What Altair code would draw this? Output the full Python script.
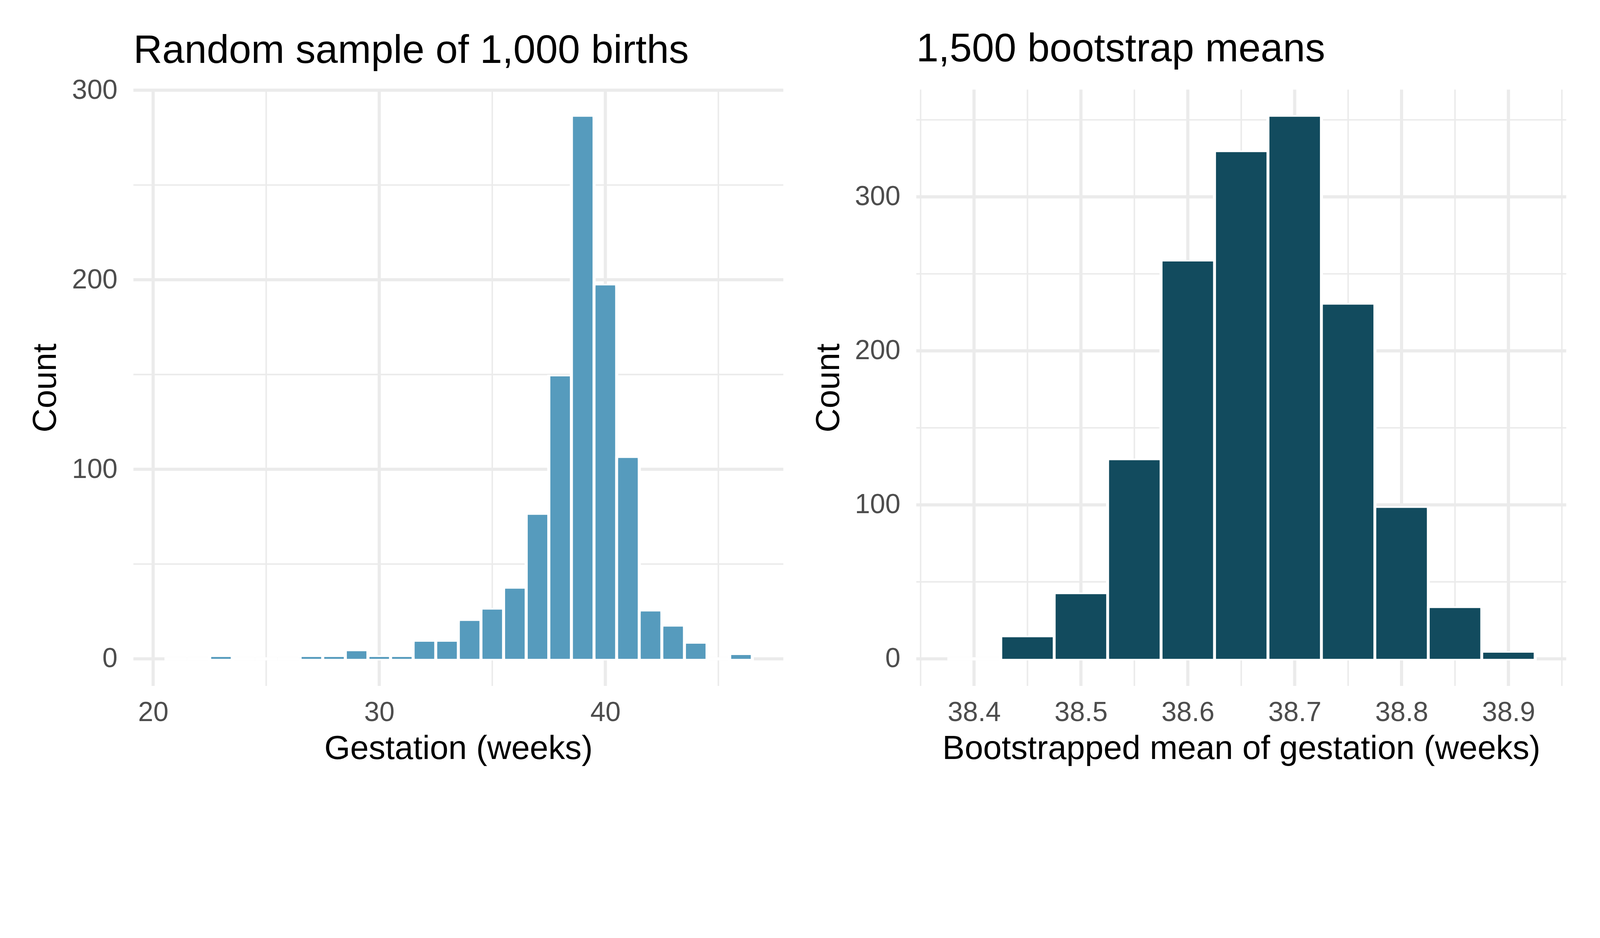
import altair as alt
import pandas as pd

# ---------------- data ----------------
# Left panel: gestation (weeks) of a random sample of 1,000 births
weeks = list(range(21, 47))
week_counts = [0, 0, 1, 0, 0, 0, 1, 1, 4, 1, 1, 9, 9, 20, 26, 37, 76, 149,
               286, 197, 106, 25, 17, 8, 0, 2]

# Right panel: 1,500 bootstrap means (bin centres, binwidth 0.05)
boot_centers = [38.40, 38.45, 38.50, 38.55, 38.60, 38.65, 38.70, 38.75,
                38.80, 38.85, 38.90]
boot_counts = [0, 14, 42, 129, 258, 329, 352, 230, 98, 33, 4]

# tick / grid values
left_x_major = [20, 30, 40]
left_x_minor = [25, 35, 45]
left_y_major = [0, 100, 200, 300]
left_y_minor = [50, 150, 250]

right_x_major = [38.4, 38.5, 38.6, 38.7, 38.8, 38.9]
right_x_minor = [38.35, 38.45, 38.55, 38.65, 38.75, 38.85, 38.95]
right_y_major = [0, 100, 200, 300]
right_y_minor = [50, 150, 250, 350]

FONT = "Liberation Sans"
GRID = "#EBEBEB"
W, H = 1951, 1789
OUTLINE = 9.6
# the concat layout adds space above the cells; compensate in the padding
LEFT, TOP = 391, -67
EXTRA = 358
PAGE_W, PAGE_H = 4784, 2384


def panel(centers, counts, half, bar_px, xdom, ydom, xmaj, xmin, ymaj, ymin,
          color, title, xtitle, xfmt, title_offset):
    xs = alt.Scale(domain=xdom, nice=False, zero=False)
    ys = alt.Scale(domain=ydom, nice=False, zero=False)
    xax = alt.Axis(values=xmaj, format=xfmt, title=xtitle)
    yax = alt.Axis(values=ymaj, format="d", title="Count")

    def vrules(vals, w):
        return alt.Chart(pd.DataFrame({"v": vals})).mark_rule(
            color=GRID, strokeWidth=w).encode(
            x=alt.X("v:Q", scale=xs, axis=xax))

    def hrules(vals, w):
        return alt.Chart(pd.DataFrame({"v": vals})).mark_rule(
            color=GRID, strokeWidth=w).encode(
            y=alt.Y("v:Q", scale=ys, axis=yax))

    base = alt.Chart(pd.DataFrame({"center": centers, "count": counts})
                     ).transform_calculate(
        x0=f"datum.center - {half}",
        x1=f"datum.center + {half}",
        base="0",
    )
    # white outline (halo) of each histogram bin
    outline = base.mark_rect(
        color=color, stroke="white", strokeWidth=OUTLINE
    ).encode(
        x=alt.X("x0:Q", scale=xs, axis=xax),
        x2="x1:Q",
        y=alt.Y("count:Q", scale=ys, axis=yax),
        y2="base:Q",
    )
    # bar fill
    fill = base.mark_bar(color=color, size=bar_px - OUTLINE).encode(
        x=alt.X("center:Q", scale=xs, axis=xax),
        y=alt.Y("count:Q", scale=ys, axis=yax),
        y2="base:Q",
    )

    return alt.layer(
        vrules(xmin, 4.5), hrules(ymin, 4.5),
        vrules(xmaj, 9.5), hrules(ymaj, 9.5),
        outline, fill,
    ).properties(
        width=W, height=H,
        title=alt.Title(title, anchor="start", frame="group",
                        offset=title_offset,
                        fontSize=120, font=FONT, fontWeight="normal",
                        color="black"),
    )


left = panel(weeks, week_counts, 0.5, W / 28.6, [19.2, 47.8], [-14.3, 300.3],
             left_x_major, left_x_minor, left_y_major, left_y_minor,
             "#569BBD", "Random sample of 1,000 births",
             "Gestation (weeks)", "d", 16)

right = panel(boot_centers, boot_counts, 0.025, W * 0.05 / 0.605,
              [38.3475, 38.9525], [-17.6, 369.6],
              right_x_major, right_x_minor, right_y_major, right_y_minor,
              "#124B5E", "1,500 bootstrap means",
              "Bootstrapped mean of gestation (weeks)", ".1f", 55)

chart = alt.hconcat(left, right, spacing=399, bounds="flush").properties(
    autosize=alt.AutoSizeParams(type="none"),
    padding={"left": LEFT, "top": TOP,
             "right": PAGE_W - LEFT, "bottom": PAGE_H - EXTRA - TOP - 30},
    background="white",
).configure_view(stroke=None).configure_axis(
    labelFont=FONT, labelFontSize=82, labelColor="#4D4D4D",
    titleFont=FONT, titleFontSize=100, titleColor="black",
    titleFontWeight="normal", domain=False, ticks=False, tickSize=0,
    grid=False, labelFlush=False,
).configure_axisX(
    labelPadding=39.5, titlePadding=19,
).configure_axisY(
    labelPadding=48, titlePadding=27,
)

chart.save("out.html", embed_options={"renderer": "svg", "actions": False})
